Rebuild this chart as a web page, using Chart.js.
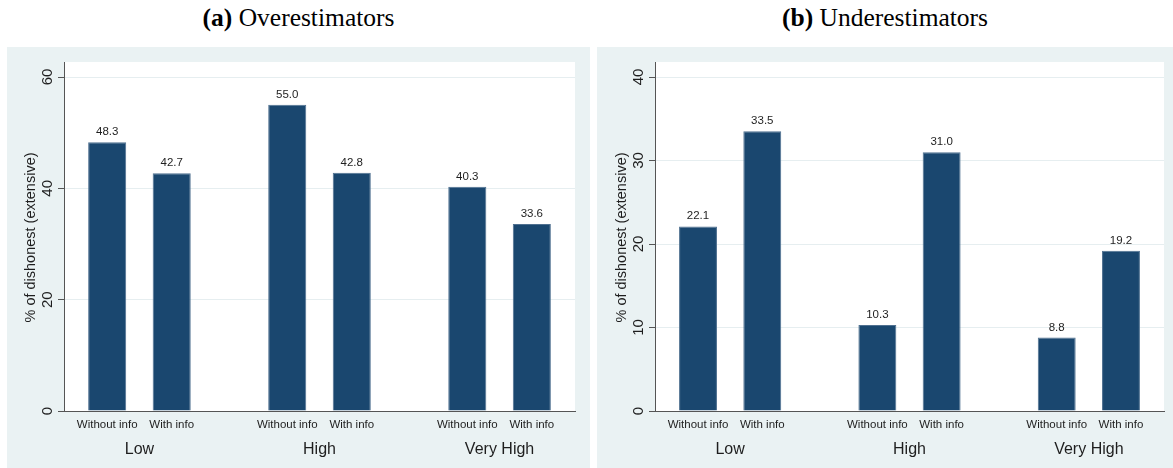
<!DOCTYPE html>
<html>
<head>
<meta charset="utf-8">
<script src="https://cdn.jsdelivr.net/npm/chart.js@4/dist/chart.umd.min.js"></script>
<style>
  html, body { margin: 0; padding: 0; background: #ffffff; }
  body { width: 1173px; height: 468px; position: relative; overflow: hidden; }
  .title {
    position: absolute; top: 2px; text-align: center;
    font-family: 'Liberation Serif', 'Times New Roman', serif;
    font-size: 25.5px; color: #000; line-height: 32px; white-space: nowrap;
  }
  .title b { font-weight: bold; }
  .panel { position: absolute; top: 47px; height: 421px; background: #eaf2f3; }
  canvas { display: block; }
</style>
</head>
<body>
<div class="title" style="left:7px;width:583px;"><b>(a)</b> Overestimators</div>
<div class="title" style="left:597px;width:576px;"><b>(b)</b> Underestimators</div>
<div class="panel" style="left:7px;width:583px;"><canvas id="chartOver" width="583" height="421"></canvas></div>
<div class="panel" style="left:597px;width:576px;"><canvas id="chartUnder" width="576" height="421"></canvas></div>

<script>
// Groups on the x axis and the two bars drawn within each group
const categories = ['Low', 'High', 'Very High'];
const infoLabels = ['Without info', 'With info'];

// Share of dishonest subjects (extensive margin), in percent
const overWithout  = [48.3, 55.0, 40.3];
const overWith     = [42.7, 42.8, 33.6];
const underWithout = [22.1, 10.3, 8.8];
const underWith    = [33.5, 31.0, 19.2];

// Tick values of the y axes
const yTicksOver  = [0, 20, 40, 60];
const yTicksUnder = [0, 10, 20, 30, 40];

const yTitle = '% of dishonest (extensive)';
const BAR = '#1a476f';
const BAR_EDGE = '#4f7090';
const TEXT = '#1e1e1e';
const AXIS = '#555555';
const SANS = "'Liberation Sans', Arial, sans-serif";

// Draws the panel background, the white plot region and all the Stata-like text
const decorations = {
  id: 'decorations',
  beforeDraw(chart) {
    const { ctx, chartArea: a } = chart;
    ctx.save();
    ctx.fillStyle = '#eaf2f3';
    ctx.fillRect(0, 0, chart.width, chart.height);
    ctx.fillStyle = '#ffffff';
    ctx.fillRect(a.left, a.top, a.right - a.left, a.bottom - a.top);
    ctx.restore();
  },
  afterDraw(chart) {
    const { ctx, chartArea: a } = chart;
    const y = chart.scales.y;
    ctx.save();
    ctx.fillStyle = TEXT;

    // value labels, bar labels and group labels
    const metas = chart.data.datasets.map((d, i) => chart.getDatasetMeta(i));
    categories.forEach((cat, ci) => {
      let sumX = 0;
      metas.forEach((meta, di) => {
        const bar = meta.data[ci];
        const v = chart.data.datasets[di].data[ci].y;
        sumX += bar.x;
        ctx.font = '11.5px ' + SANS;
        ctx.textAlign = 'center';
        ctx.textBaseline = 'alphabetic';
        ctx.fillText(v.toFixed(1), bar.x, bar.y - 7);
        ctx.font = '11.5px ' + SANS;
        ctx.fillText(infoLabels[di], bar.x, a.bottom + 16.5);
      });
      ctx.font = '16px ' + SANS;
      ctx.fillText(cat, sumX / metas.length, a.bottom + 43);
    });

    // rotated y tick labels
    ctx.font = '15px ' + SANS;
    y.ticks.forEach(t => {
      const py = y.getPixelForValue(t.value);
      ctx.save();
      ctx.translate(a.left - 12.5, py);
      ctx.rotate(-Math.PI / 2);
      ctx.textAlign = 'center';
      ctx.textBaseline = 'alphabetic';
      ctx.fillText(String(t.value), 0, 0);
      ctx.restore();
    });

    // y axis title
    ctx.save();
    ctx.font = '14.5px ' + SANS;
    ctx.translate(a.left - 33.5, (a.top + a.bottom) / 2 + 1);
    ctx.rotate(-Math.PI / 2);
    ctx.textAlign = 'center';
    ctx.textBaseline = 'middle';
    ctx.fillText(yTitle, 0, 0);
    ctx.restore();

    ctx.restore();
  }
};

function makeChart(id, withoutVals, withVals, yTicks, yMax, yWidth, rightPad) {
  const toPoints = vals => vals.map((v, i) => ({ x: i, y: v }));
  const barStyle = { backgroundColor: BAR, borderColor: BAR_EDGE, borderWidth: 1 };
  return new Chart(document.getElementById(id), {
    type: 'bar',
    data: {
      datasets: [
        { label: infoLabels[0], data: toPoints(withoutVals), ...barStyle },
        { label: infoLabels[1], data: toPoints(withVals), ...barStyle }
      ]
    },
    options: {
      responsive: false,
      animation: false,
      devicePixelRatio: 1,
      categoryPercentage: 0.7167,
      barPercentage: 0.59,
      layout: { padding: { top: 15, right: rightPad, bottom: 0, left: 0 } },
      plugins: { legend: { display: false }, tooltip: { enabled: false } },
      scales: {
        x: {
          type: 'linear',
          offset: false,
          min: -0.419,
          max: categories.length - 1 + 0.419,
          ticks: { display: false },
          grid: { display: false },
          border: { display: true, color: AXIS, width: 1 },
          // one tick per group so the bar ruler uses the group spacing
          afterBuildTicks(scale) { scale.ticks = categories.map((c, i) => ({ value: i })); },
          afterFit(scale) { scale.height = 57; }
        },
        y: {
          min: 0,
          max: yMax,
          ticks: { display: false },
          grid: { color: '#e6eef0', lineWidth: 1, drawTicks: true, tickLength: 6, tickColor: AXIS },
          border: { display: true, color: AXIS, width: 1 },
          afterBuildTicks(scale) { scale.ticks = yTicks.map(v => ({ value: v })); },
          afterFit(scale) { scale.width = yWidth; }
        }
      }
    },
    plugins: [decorations]
  });
}

makeChart('chartOver', overWithout, overWith, yTicksOver, 62.7, 57, 15);
makeChart('chartUnder', underWithout, underWith, yTicksUnder, 41.8, 58, 9);
</script>
</body>
</html>
